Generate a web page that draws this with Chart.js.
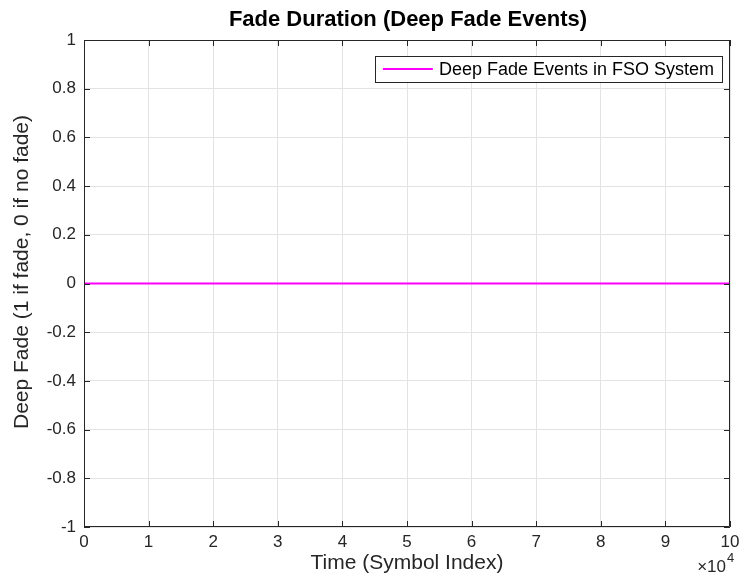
<!DOCTYPE html>
<html>
<head>
<meta charset="utf-8">
<script src="https://cdn.jsdelivr.net/npm/chart.js@4.4.1/dist/chart.umd.min.js"></script>
<style>
  html, body { margin: 0; padding: 0; background: #fff; }
  #wrap { width: 740px; height: 576px; }
</style>
</head>
<body>
<div id="wrap"><canvas id="myChart" width="740" height="576"></canvas></div>
<script>
// data: the deep fade indicator stays at 0 for the whole run
const timeIndex = [0, 10000, 20000, 30000, 40000, 50000, 60000, 70000, 80000, 90000, 100000];
const deepFade = [0, 0, 0, 0, 0, 0, 0, 0, 0, 0, 0];
const seriesLabel = 'Deep Fade Events in FSO System';
const xTicks = [0, 1, 2, 3, 4, 5, 6, 7, 8, 9, 10];
const yTicks = [-1, -0.8, -0.6, -0.4, -0.2, 0, 0.2, 0.4, 0.6, 0.8, 1];
const titleText = 'Fade Duration (Deep Fade Events)';
const yLabelText = 'Deep Fade (1 if fade, 0 if no fade)';

const FONT = "'Liberation Sans', Arial, Helvetica, sans-serif";
const AXIS_COLOR = '#262626';
const GRID_COLOR = '#e3e3e3';

// MATLAB-like box, inward ticks, title, y label, legend and the x10^4 exponent
const matlabAxes = {
  id: 'matlabAxes',
  afterDraw(chart) {
    const ctx = chart.ctx;
    const { left, right, top, bottom } = chart.chartArea;
    const xs = chart.scales.x;
    const ys = chart.scales.y;
    const tl = 6;

    ctx.save();
    ctx.strokeStyle = AXIS_COLOR;
    ctx.lineWidth = 1;
    ctx.beginPath();
    ctx.rect(left + 0.5, top + 0.5, right - left - 1, bottom - top - 1);
    xs.ticks.forEach(t => {
      const px = Math.round(xs.getPixelForValue(t.value)) + 0.5;
      ctx.moveTo(px, bottom); ctx.lineTo(px, bottom - tl);
      ctx.moveTo(px, top); ctx.lineTo(px, top + tl);
    });
    ys.ticks.forEach(t => {
      const py = Math.round(ys.getPixelForValue(t.value)) + 0.5;
      ctx.moveTo(left, py); ctx.lineTo(left + tl, py);
      ctx.moveTo(right, py); ctx.lineTo(right - tl, py);
    });
    ctx.stroke();

    // title, centred over the axes
    ctx.fillStyle = '#000';
    ctx.textAlign = 'center';
    ctx.textBaseline = 'middle';
    ctx.font = 'bold 22px ' + FONT;
    ctx.fillText(titleText, (left + right) / 2 + 1, 20);

    // y axis label
    ctx.save();
    ctx.translate(22, 272);
    ctx.rotate(-Math.PI / 2);
    ctx.fillStyle = AXIS_COLOR;
    ctx.font = '21px ' + FONT;
    ctx.fillText(yLabelText, 0, 0);
    ctx.restore();

    // legend
    ctx.font = '18px ' + FONT;
    const tw = ctx.measureText(seriesLabel).width;
    const boxW = 64 + tw + 8;
    const boxH = 26;
    const bx = right - 8 - boxW;
    const by = top + 16;
    ctx.fillStyle = '#fff';
    ctx.fillRect(bx, by, boxW, boxH);
    ctx.strokeStyle = AXIS_COLOR;
    ctx.strokeRect(Math.round(bx) + 0.5, Math.round(by) + 0.5, Math.round(boxW), boxH);
    const ds = chart.data.datasets[0];
    ctx.strokeStyle = ds.borderColor;
    ctx.lineWidth = ds.borderWidth;
    ctx.beginPath();
    ctx.moveTo(bx + 8, by + boxH / 2);
    ctx.lineTo(bx + 58, by + boxH / 2);
    ctx.stroke();
    ctx.fillStyle = '#000';
    ctx.textBaseline = 'middle';
    ctx.textAlign = 'left';
    ctx.fillText(ds.label, bx + 64, by + boxH / 2 + 1);

    // exponent label
    ctx.fillStyle = AXIS_COLOR;
    ctx.textAlign = 'right';
    ctx.textBaseline = 'alphabetic';
    ctx.font = '17px ' + FONT;
    ctx.fillText('\u00d710', right - 4, 572);
    ctx.font = '13px ' + FONT;
    ctx.textAlign = 'left';
    ctx.fillText('4', right - 3, 562);
    ctx.restore();
  }
};

const chartElement = document.getElementById('myChart').getContext('2d');

new Chart(chartElement, {
  type: 'line',
  data: {
    datasets: [{
      label: seriesLabel,
      data: timeIndex.map((t, i) => ({ x: t, y: deepFade[i] })),
      borderColor: '#ff00ff',
      borderWidth: 2,
      pointRadius: 0,
      fill: false,
      tension: 0
    }]
  },
  options: {
    responsive: false,
    animation: false,
    layout: { padding: { left: 0, right: 10, top: 40, bottom: 0 } },
    plugins: {
      legend: { display: false },
      tooltip: { enabled: false },
      title: { display: false }
    },
    scales: {
      x: {
        type: 'linear',
        min: 0,
        max: 100000,
        afterBuildTicks: scale => {
          scale.ticks = xTicks.map(v => ({ value: v * 10000 }));
        },
        afterFit: scale => {
          scale.height = 49;
          scale.paddingLeft = 0;
          scale.paddingRight = 0;
        },
        ticks: {
          color: AXIS_COLOR,
          font: { family: FONT, size: 17 },
          padding: 5,
          maxRotation: 0,
          autoSkip: false,
          callback: v => String(v / 10000)
        },
        grid: { color: GRID_COLOR, drawTicks: false },
        border: { display: false },
        title: {
          display: true,
          text: 'Time (Symbol Index)',
          color: AXIS_COLOR,
          font: { family: FONT, size: 21 },
          padding: { top: 0, bottom: 0 }
        }
      },
      y: {
        min: -1,
        max: 1,
        afterBuildTicks: scale => {
          scale.ticks = yTicks.map(v => ({ value: v }));
        },
        afterFit: scale => {
          scale.width = 84;
          scale.paddingTop = 0;
          scale.paddingBottom = 0;
        },
        ticks: {
          color: AXIS_COLOR,
          font: { family: FONT, size: 17 },
          padding: 8,
          autoSkip: false,
          callback: v => String(Math.round(v * 10) / 10)
        },
        grid: { color: GRID_COLOR, drawTicks: false },
        border: { display: false },
        title: { display: false }
      }
    }
  },
  plugins: [matlabAxes]
});
</script>
</body>
</html>
